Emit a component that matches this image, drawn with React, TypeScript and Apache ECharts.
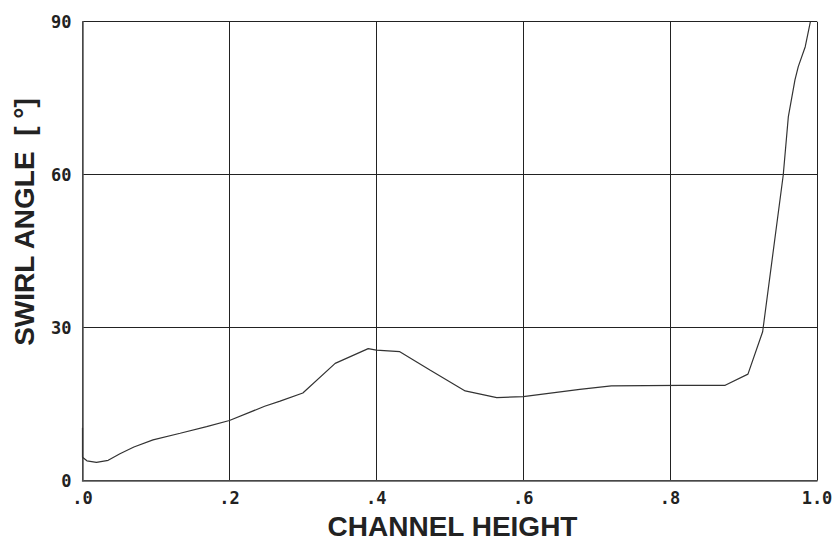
import React, { useEffect, useRef } from "react";
import * as echarts from "echarts";

const channelHeight = [
  0, 0, 0.006, 0.019, 0.035, 0.051, 0.07, 0.096, 0.133, 0.169, 0.2, 0.248,
  0.269, 0.3, 0.344, 0.389, 0.4, 0.432, 0.473, 0.521, 0.564, 0.6, 0.677,
  0.72, 0.814, 0.875, 0.906, 0.926, 0.954, 0.961, 0.97, 0.9745, 0.984, 0.991,
];
const swirlAngle = [
  10.4, 4.6, 3.9, 3.6, 4.0, 5.3, 6.6, 8.0, 9.3, 10.6, 11.8, 14.6,
  15.6, 17.2, 23.0, 25.9, 25.6, 25.3, 21.7, 17.6, 16.3, 16.5, 17.9,
  18.6, 18.7, 18.7, 20.9, 29.2, 59.9, 71.4, 78.6, 81.2, 85.1, 90,
];
const xTicks = [0, 0.2, 0.4, 0.6, 0.8, 1.0];
const xTickLabels = [".0", ".2", ".4", ".6", ".8", "1.0"];
const yTicks = [0, 30, 60, 90];

export default function App() {
  const ref = useRef<HTMLDivElement>(null);
  useEffect(() => {
    if (!ref.current) return;
    const chart = echarts.init(ref.current, null, { renderer: "svg" });
    const data = channelHeight.map((x, i) => [x, swirlAngle[i]]);
    const tickFont = {
      fontFamily: "DejaVu Sans Mono",
      fontSize: 17,
      fontWeight: "bold",
      color: "#222",
    };
    chart.setOption({
      animation: false,
      backgroundColor: "#fff",
      grid: { left: 82.5, right: 19, top: 21.7, bottom: 59.3, containLabel: false },
      xAxis: {
        type: "value",
        min: 0,
        max: 1,
        interval: 0.2,
        axisLine: { show: true, lineStyle: { color: "#555", width: 1.5 } },
        axisTick: { show: false },
        splitLine: { show: true, lineStyle: { color: "#222", width: 1 } },
        axisLabel: {
          ...tickFont,
          margin: 9,
          formatter: (v: number) => {
            const idx = xTicks.findIndex((t) => Math.abs(t - v) < 1e-6);
            return idx >= 0 ? xTickLabels[idx] : "";
          },
        },
      },
      yAxis: {
        type: "value",
        min: 0,
        max: 90,
        interval: 30,
        axisLine: { show: true, lineStyle: { color: "#555", width: 1.5 } },
        axisTick: { show: false },
        splitLine: { show: true, lineStyle: { color: "#222", width: 1 } },
        axisLabel: {
          ...tickFont,
          margin: 11,
          formatter: (v: number) => (yTicks.includes(v) ? String(v) : ""),
        },
      },
      graphic: [
        {
          type: "text",
          x: 452.5,
          y: 526,
          style: {
            text: "CHANNEL HEIGHT",
            font: "bold 28px 'Liberation Sans', Arial, sans-serif",
            fill: "#222",
            textAlign: "center",
            textVerticalAlign: "middle",
          },
        },
        {
          type: "text",
          x: 24,
          y: 222,
          rotation: Math.PI / 2,
          style: {
            text: "SWIRL ANGLE  [ °]",
            font: "bold 28px 'Liberation Sans', Arial, sans-serif",
            fill: "#222",
            textAlign: "center",
            textVerticalAlign: "middle",
          },
        },
      ],
      series: [
        {
          type: "line",
          data,
          showSymbol: false,
          smooth: false,
          lineStyle: { color: "#333", width: 1.2 },
        },
      ],
    });
    return () => chart.dispose();
  }, []);
  return <div ref={ref} style={{ width: 836, height: 540, position: "absolute", left: 0, top: 0 }} />;
}
